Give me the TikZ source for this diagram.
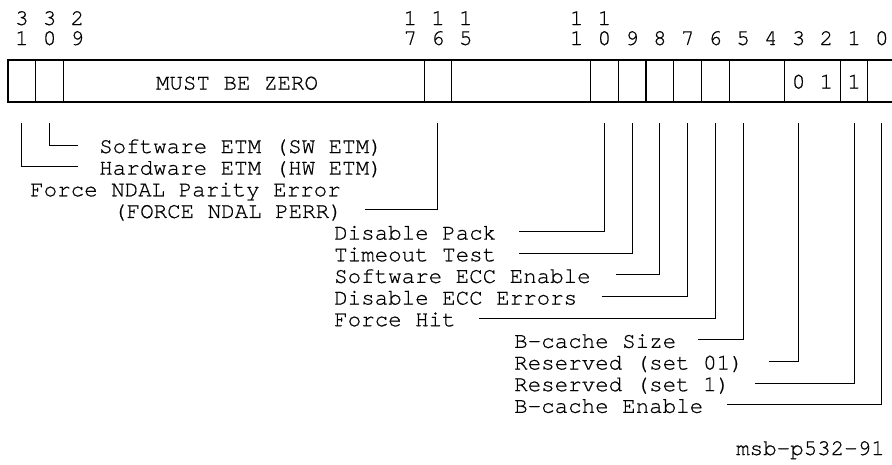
\documentclass[tikz,border=0pt]{standalone}
\usepackage{fontspec}
\newfontfamily\regmono[FakeBold=0.6]{TeX Gyre Cursor}
\tikzset{
  lbl/.style={font=\regmono\fontsize{22.5}{24}\selectfont, inner sep=0pt, text height=18pt, text depth=2pt, anchor=west},
  bitnum/.style={font=\regmono\fontsize{22.5}{20}\selectfont, inner sep=0pt, align=center, anchor=base},
  boxtxt/.style={font=\regmono\fontsize{22.5}{24}\selectfont, inner sep=0pt, anchor=base},
  regline/.style={line width=1.1pt, line cap=rect},
  leader/.style={line width=1pt}
}
\begin{document}
\begin{tikzpicture}[x=1pt,y=-1pt]
\useasboundingbox (0,0) rectangle (892,464);
\clip (0,0) rectangle (892,464);
\def\bw{27.74}
% bit numbers (two-digit columns as one node each)
\foreach \b/\t/\u in {31/3/1,30/3/0,29/2/9,17/1/7,16/1/6,15/1/5,11/1/1,10/1/0}
  \node[bitnum] (n\b) at ({8+(31.5-\b)*\bw},45) {\t\\\u};
\foreach \b in {9,8,7,6,5,4,3,2,1,0}
  \node[bitnum] (n\b) at ({8+(31.5-\b)*\bw},45) {\b};
% register box
\draw[regline] (8,60) rectangle ({8+32*\bw},102);
\foreach \k in {1,2,15,16,21,22,23,24,25,26,28,30,31}
  \draw[regline] ({8+\k*\bw},60) -- ({8+\k*\bw},102);
\node[boxtxt] (mbz) at (237,89.5) {MUST BE ZERO};
\node[boxtxt] (v3) at ({8+(31.5-3)*\bw},88.5) {0};
\node[boxtxt] (v2) at ({8+(31.5-2)*\bw},88.5) {1};
\node[boxtxt] (v1) at ({8+(31.5-1)*\bw},88.5) {1};
% leader start points
\foreach \b in {31,30,16,10,9,8,7,6,5,3,1,0}
  \coordinate (p\b) at ({8+(31.5-\b)*\bw},123);
% labels
\def\ry#1{145+21.65*#1}
\node[lbl] (sw)   at (99,{\ry{0}})  {Software ETM (SW ETM)};
\node[lbl] (hw)   at (99,{\ry{1}})  {Hardware ETM (HW ETM)};
\node[lbl] (fnp)  at (30,{\ry{2}})  {Force NDAL Parity Error};
\node[lbl] (perr) at (113,{\ry{3}}) {(FORCE NDAL PERR)};
\node[lbl] (dp)   at (334,{\ry{4}}) {Disable Pack};
\node[lbl] (tt)   at (334,{\ry{5}}) {Timeout Test};
\node[lbl] (secc) at (334,{\ry{6}}) {Software ECC Enable};
\node[lbl] (decc) at (334,{\ry{7}}) {Disable ECC Errors};
\node[lbl] (fh)   at (334,{\ry{8}}) {Force Hit};
\node[lbl] (bcs)  at (514,{\ry{9}}) {B-cache Size};
\node[lbl] (r01)  at (514,{\ry{10}}) {Reserved (set 01)};
\node[lbl] (r1)   at (514,{\ry{11}}) {Reserved (set 1)};
\node[lbl] (bce)  at (514,{\ry{12}}) {B-cache Enable};
\node[lbl] (tag)  at (736,447) {msb-p532-91};
% leaders
\draw[leader] (p31) |- ([xshift=-21pt]hw.west);
\draw[leader] (p30) |- ([xshift=-21pt]sw.west);
\draw[leader] (p16) |- ([xshift=22pt]perr.east);
\draw[leader] (p10) |- ([xshift=23pt]dp.east);
\draw[leader] (p9)  |- ([xshift=23pt]tt.east);
\draw[leader] (p8)  |- ([xshift=25pt]secc.east);
\draw[leader] (p7)  |- ([xshift=25pt]decc.east);
\draw[leader] (p6)  |- ([xshift=23pt]fh.east);
\draw[leader] (p5)  |- ([xshift=22pt]bcs.east);
\draw[leader] (p3)  |- ([xshift=25pt]r01.east);
\draw[leader] (p1)  |- ([xshift=25pt]r1.east);
\draw[leader] (p0)  |- ([xshift=24pt]bce.east);
\end{tikzpicture}
\end{document}
